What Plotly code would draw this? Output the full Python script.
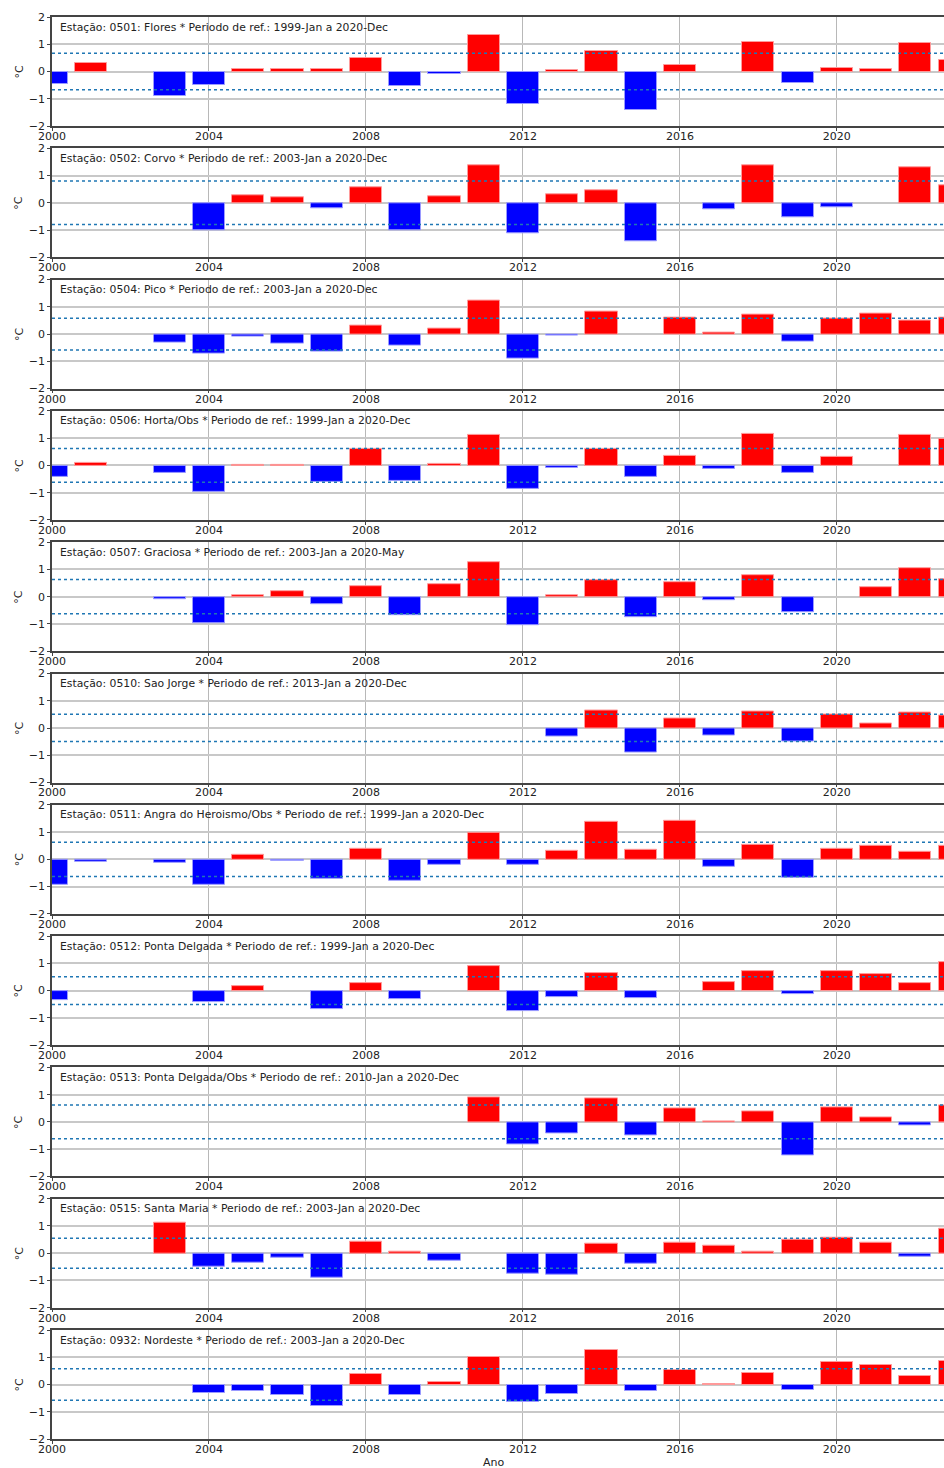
import plotly.graph_objects as go

years = list(range(2000, 2024))

stations = [
    "Estação: 0501: Flores * Periodo de ref.: 1999-Jan a 2020-Dec",
    "Estação: 0502: Corvo * Periodo de ref.: 2003-Jan a 2020-Dec",
    "Estação: 0504: Pico * Periodo de ref.: 2003-Jan a 2020-Dec",
    "Estação: 0506: Horta/Obs * Periodo de ref.: 1999-Jan a 2020-Dec",
    "Estação: 0507: Graciosa * Periodo de ref.: 2003-Jan a 2020-May",
    "Estação: 0510: Sao Jorge * Periodo de ref.: 2013-Jan a 2020-Dec",
    "Estação: 0511: Angra do Heroismo/Obs * Periodo de ref.: 1999-Jan a 2020-Dec",
    "Estação: 0512: Ponta Delgada * Periodo de ref.: 1999-Jan a 2020-Dec",
    "Estação: 0513: Ponta Delgada/Obs * Periodo de ref.: 2010-Jan a 2020-Dec",
    "Estação: 0515: Santa Maria * Periodo de ref.: 2003-Jan a 2020-Dec",
    "Estação: 0932: Nordeste * Periodo de ref.: 2003-Jan a 2020-Dec",
]

N = None
flores = [-0.47, 0.33, N, -0.9, -0.5, 0.11, 0.1, 0.1, 0.49, -0.52, -0.09, 1.33, -1.2, 0.07, 0.77, -1.42, 0.23, N, 1.08, -0.44, 0.12, 0.08, 1.05, 0.44]
corvo = [N, N, N, N, -1.0, 0.27, 0.21, -0.22, 0.58, -1.0, 0.24, 1.36, -1.13, 0.3, 0.47, -1.43, N, -0.25, 1.36, -0.52, -0.18, N, 1.3, 0.63]
pico = [N, N, N, -0.3, -0.73, -0.09, -0.34, -0.63, 0.32, -0.43, 0.22, 1.24, -0.9, -0.05, 0.84, N, 0.6, 0.07, 0.73, -0.26, 0.56, 0.74, 0.49, 0.59]
horta = [-0.43, 0.1, N, -0.27, -0.96, 0.03, 0.03, -0.6, 0.62, -0.56, 0.07, 1.13, -0.88, -0.1, 0.61, -0.44, 0.34, -0.13, 1.16, -0.27, 0.32, N, 1.13, 0.99]
graciosa = [N, N, N, -0.09, -0.99, 0.06, 0.2, -0.28, 0.37, -0.68, 0.45, 1.26, -1.06, 0.06, 0.59, -0.74, 0.55, -0.13, 0.78, -0.56, N, 0.35, 1.05, 0.63]
sao_jorge = [N] * 13 + [-0.33, 0.63, -0.89, 0.34, -0.29, 0.62, -0.49, 0.48, 0.18, 0.56, 0.45]
angra = [-0.95, -0.1, N, -0.13, -0.93, 0.17, -0.05, -0.7, 0.37, -0.79, -0.22, 0.99, -0.21, 0.33, 1.39, 0.34, 1.4, -0.26, 0.54, -0.68, 0.38, 0.49, 0.27, 0.49]
ponta_delgada = [-0.34, N, N, N, -0.43, 0.16, N, -0.68, 0.29, -0.33, N, 0.9, -0.77, -0.23, 0.63, -0.29, N, 0.33, 0.7, -0.11, 0.7, 0.61, 0.27, 1.04]
ponta_delgada_obs = [N] * 11 + [0.91, -0.83, -0.43, 0.85, -0.51, 0.5, 0.02, 0.4, -1.23, 0.52, 0.18, -0.11, 0.59]
santa_maria = [N, N, N, 1.13, -0.49, -0.34, -0.18, -0.89, 0.44, 0.06, -0.26, N, -0.77, -0.79, 0.35, -0.39, 0.38, 0.26, 0.06, 0.49, 0.56, 0.38, -0.13, 0.89]
nordeste = [N, N, N, N, -0.32, -0.25, -0.37, -0.8, 0.37, -0.38, 0.11, 1.02, -0.63, -0.36, 1.26, -0.23, 0.53, 0.03, 0.42, -0.2, 0.81, 0.7, 0.31, 0.86]

series = [flores, corvo, pico, horta, graciosa, sao_jorge, angra,
          ponta_delgada, ponta_delgada_obs, santa_maria, nordeste]
thresholds = [0.67, 0.8, 0.58, 0.62, 0.63, 0.5, 0.63, 0.51, 0.62, 0.55, 0.58]

xticks = [2000, 2004, 2008, 2012, 2016, 2020]
yticks = [-2, -1, 0, 1, 2]

W, H = 944, 1468
MT, MB, ML, MR = 17, 29, 52, 0
PH = H - MT - MB
SUB_H = 109
STEP = 131.3

fig = go.Figure()
FONT = "DejaVu Sans"
layout_axes = {}
shapes = []
annotations = []

for k, (vals, label, thr) in enumerate(zip(series, stations, thresholds)):
    top = MT + STEP * k
    bot = top + SUB_H
    d0 = 1 - (bot - MT) / PH
    d1 = 1 - (top - MT) / PH
    xa = "x" if k == 0 else f"x{k+1}"
    ya = "y" if k == 0 else f"y{k+1}"
    xs, ys, cols, lcols = [], [], [], []
    for yr, v in zip(years, vals):
        if v is None:
            continue
        xs.append(yr)
        ys.append(v)
        cols.append("#ff0000" if v >= 0 else "#0000ff")
        lcols.append("#ff9a9a" if v >= 0 else "#9a9aff")
    fig.add_trace(go.Bar(x=xs, y=ys, width=0.82, xaxis=xa, yaxis=ya,
                         marker=dict(color=cols, line=dict(color=lcols, width=1)),
                         showlegend=False))
    xkey = "xaxis" if k == 0 else f"xaxis{k+1}"
    ykey = "yaxis" if k == 0 else f"yaxis{k+1}"
    layout_axes[xkey] = dict(
        domain=[0, 1], anchor=ya, range=[2000, 2022.73],
        tickvals=xticks, ticktext=[str(t) for t in xticks],
        showgrid=True, gridcolor="#b8b8b8", gridwidth=1,
        zeroline=False, showline=True, mirror=True, linecolor="#444444", linewidth=1.5,
        ticks="outside", ticklen=3, tickcolor="#444444", ticklabelstandoff=-4,
        tickfont=dict(family=FONT, size=11, color="#222222"),
    )
    layout_axes[ykey] = dict(
        domain=[d0, d1], anchor=xa, range=[-2, 2],
        tickvals=yticks, ticktext=["−2", "−1", "0", "1", "2"],
        showgrid=True, gridcolor="#c8c8c8", gridwidth=1.5,
        zeroline=False, showline=True, mirror=False, linecolor="#444444", linewidth=1.5,
        ticks="outside", ticklen=3, tickcolor="#444444",
        tickfont=dict(family=FONT, size=11, color="#222222"),
    )
    for sgn in (1, -1):
        shapes.append(dict(type="line", xref=f"{xa} domain", yref=ya,
                           x0=0, x1=1, y0=sgn * thr, y1=sgn * thr,
                           line=dict(color="#1f77b4", width=1.5, dash="dot"),
                           layer="above"))
    annotations.append(dict(text=label, xref=f"{xa} domain", yref=f"{ya} domain",
                            x=0.007, y=1 - 10 / SUB_H, xanchor="left", yanchor="middle",
                            showarrow=False, font=dict(family=FONT, size=10.8, color="#222222")))
    annotations.append(dict(text="°C", xref="paper", yref="paper",
                            x=(19 - ML) / (W - ML - MR), y=(d0 + d1) / 2,
                            xanchor="center", yanchor="middle", textangle=-90,
                            showarrow=False, font=dict(family=FONT, size=11, color="#222222")))

annotations.append(dict(text="Ano", xref="paper", yref="paper",
                        x=(493 - ML) / (W - ML - MR), y=1 - (1462 - MT) / PH,
                        xanchor="center", yanchor="middle", showarrow=False,
                        font=dict(family=FONT, size=11, color="#222222")))

fig.update_layout(
    width=W, height=H,
    margin=dict(l=ML, r=MR, t=MT, b=MB, autoexpand=False),
    paper_bgcolor="white", plot_bgcolor="white",
    bargap=0, shapes=shapes, annotations=annotations,
    **layout_axes,
)

fig.write_html("out.html", config={"displayModeBar": False},
               post_script="document.body.style.margin='0';document.body.style.overflow='hidden';")
